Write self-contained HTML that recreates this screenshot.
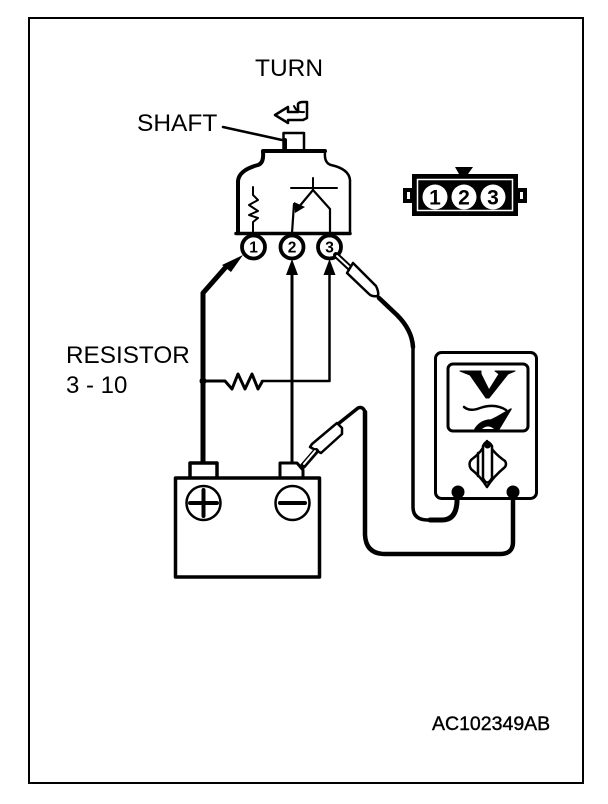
<!DOCTYPE html>
<html><head><meta charset="utf-8"><style>
html,body{margin:0;padding:0;background:#fff;width:608px;height:804px;overflow:hidden}
svg{display:block}
text{font-family:"Liberation Sans",sans-serif;fill:#000}
</style></head><body>
<svg width="608" height="804" viewBox="0 0 608 804" xmlns="http://www.w3.org/2000/svg">
<rect x="29" y="18" width="554" height="765" fill="none" stroke="#000" stroke-width="2"/>
<text x="255" y="76" font-size="24.5">TURN</text>
<text x="137" y="131" font-size="24.5">SHAFT</text>
<text x="66" y="363" font-size="24.3">RESISTOR</text>
<text x="66" y="393" font-size="24">3 - 10</text>
<text x="432" y="730" font-size="19.5" stroke="#000" stroke-width=".4">AC102349AB</text>
<g fill="none" stroke="#000" stroke-linejoin="round" stroke-linecap="round">
<!-- turn arrow -->
<path d="M275 115 L288 107 V112 H298 V104 Q299 102 303 102 H307 V118 L303 120 H288 V123 Z" stroke-width="2.500"/>
<path d="M294 106 Q297 113 304 112" stroke-width="2"/>
<!-- shaft -->
<path d="M223 127 L282 140" stroke-width="2.500"/>
<path d="M283.500 150 V133 H304 V150" stroke-width="2.500"/>
<path d="M285 150 V140" stroke-width="4"/>
<!-- body -->
<path d="M263 151 H325" stroke-width="4"/>
<path d="M263 152 Q264 163 258 165 Q239 170 238 181 V233" stroke-width="4"/>
<path d="M325 152 Q324 163 331 165 Q349 169 350 180 V233" stroke-width="2.500"/>
<path d="M236 233.500 H350" stroke-width="3.500"/>
<!-- inner resistor -->
<path d="M253 187 V195 L258 200 L249 205 L258 211 L249 215 L258 218 L253 222 V233" stroke-width="2"/>
<!-- switch -->
<path d="M291 188 H337" stroke-width="2"/>
<path d="M313 178 V190" stroke-width="2"/>
<path d="M313 190 L330 209 V233" stroke-width="2.200"/>
<path d="M313 190 L298 208" stroke-width="2.200"/>
<path d="M294 204 L292 233" stroke-width="2.200"/>
<!-- terminals -->
<g fill="#fff" stroke-width="3.800">
<circle cx="253.500" cy="247" r="11.500"/>
<circle cx="292" cy="247" r="11.500"/>
<circle cx="329.500" cy="247" r="11.500"/>
</g>
<!-- main wires -->
<path d="M203 463 V293 L225 268" stroke-width="5"/>
<path d="M292 463 V270" stroke-width="3"/>
<path d="M329.500 270 V381 H262" stroke-width="2.500"/>
<path d="M203 381 H225 L232 389 L238 374 L245 389 L252 374 L258 389 L262 382" stroke-width="3"/>
<!-- probe at 3 -->
<path d="M336 255 L352 270" stroke-width="6"/>
<path d="M337 256 L350 268" stroke="#fff" stroke-width="2"/>
<path d="M353 263 L376 286 Q379 292 378 296 Q372 297 369 294 L347 273 Z" fill="#fff" stroke-width="2.500"/>
<path d="M379 298 L397 315 Q412 330 413 347 V507 Q413 520 428 520 H442 Q456 520 457 500 V492" stroke-width="3.500"/>
<path d="M379 298 L397 315 Q412 330 413 347" stroke-width="4.500"/>
<path d="M457 492 V502 Q456 520 442 520 H430" stroke-width="5"/>
<!-- meter -->
<rect x="435.500" y="352.500" width="101" height="146" rx="6" fill="#fff" stroke-width="3"/>
<rect x="448" y="364" width="80" height="67" rx="5" stroke-width="3"/>
<path d="M460 371 H481 V374 L489 390 L499 374 L495 371 H515 L508 374 L489 398 H486 L470 375 Z" fill="#000" stroke-width="1"/>
<path d="M464 407 Q470 412 480 408 Q495 403 506 410" stroke-width="2.500"/>
<path d="M475 429 Q481 420 491 420 L497 417 L511 409 L499 429 Z" fill="#000" stroke-width="1.500"/>
<path d="M482 429 Q488 424 494 429 Z" fill="#fff" stroke="none"/>
<path d="M487 441 Q492 452 505 461 Q507 464 505 467 Q493 477 487 487 Q481 477 471 469 Q468 464 471 460 Q482 452 487 441 Z" stroke-width="2.500"/>
<path d="M478 453 V476" stroke-width="2.500"/>
<path d="M483 446 Q487 438 492 446 V478 Q487 487 483 478 Z" fill="#fff" stroke-width="2.500"/>
<circle cx="487.500" cy="445" r="3.500" fill="#000" stroke="none"/>
<circle cx="458" cy="492" r="6.500" fill="#000" stroke="none"/>
<circle cx="513" cy="492" r="6.500" fill="#000" stroke="none"/>
<path d="M513 492 V542 Q513 554 500 554 H385 Q366 554 365 535 V412" stroke-width="4.500"/>
<path d="M365 412 Q363 406 358 408 L338 424" stroke-width="3.500"/>
<!-- battery -->
<path d="M190 477 V463 H217 V477" fill="#fff" stroke-width="3.500"/>
<path d="M280 477 V463 H297 L303 470 V477" fill="#fff" stroke-width="3"/>
<rect x="175.500" y="478" width="144" height="99" fill="#fff" stroke-width="3.500"/>
<circle cx="203.500" cy="503" r="17" stroke-width="2.500"/>
<circle cx="292.500" cy="503" r="17" stroke-width="2.500"/>
<path d="M190 503 H217 M203.500 490 V516" stroke-width="4"/>
<path d="M280 503 H305" stroke-width="4"/>
<!-- probe at battery -->
<path d="M337 423 L342 428 L342 434 L321 453 L310 447 L312 444 Z" fill="#fff" stroke-width="2.500"/>
<path d="M316 451 L303 466" stroke-width="6"/>
<path d="M315 451 L304 464" stroke="#fff" stroke-width="2"/>
</g>
<!-- switch arrowhead -->
<path d="M295 213 L294 202 L305 207 Z" fill="#000"/>
<!-- connector -->
<rect x="403" y="188" width="124" height="15" fill="#000"/>
<rect x="407" y="192" width="3" height="7" fill="#fff"/>
<rect x="520" y="192" width="3" height="7" fill="#fff"/>
<rect x="412" y="174" width="106" height="42" fill="#000"/>
<rect x="417.500" y="179.500" width="95" height="31" fill="#000" stroke="#fff" stroke-width="1.500"/>
<path d="M455 167 H473 L468 174 H459 Z" fill="#000"/>
<!-- arrowheads -->
<path d="M243 255 L222 265 L231 272 Z" fill="#000"/>
<path d="M292 259 L286 275 H298 Z" fill="#000"/>
<path d="M329.500 259 L323.500 275 H335.500 Z" fill="#000"/>
<circle cx="203" cy="381" r="3.500" fill="#000"/>
<!-- connector circles and numbers -->
<circle cx="435" cy="197" r="12.500" fill="#fff"/>
<circle cx="464" cy="197" r="12.500" fill="#fff"/>
<circle cx="493" cy="197" r="12.500" fill="#fff"/>
<g font-size="21" font-weight="bold" text-anchor="middle">
<text x="435" y="204.500">1</text><text x="464" y="204.500">2</text><text x="493" y="204.500">3</text>
</g>
<g font-size="15.500" font-weight="bold" text-anchor="middle">
<text x="253.500" y="252.500">1</text><text x="292" y="252.500">2</text><text x="329.500" y="252.500">3</text>
</g>
</svg>
</body></html>
